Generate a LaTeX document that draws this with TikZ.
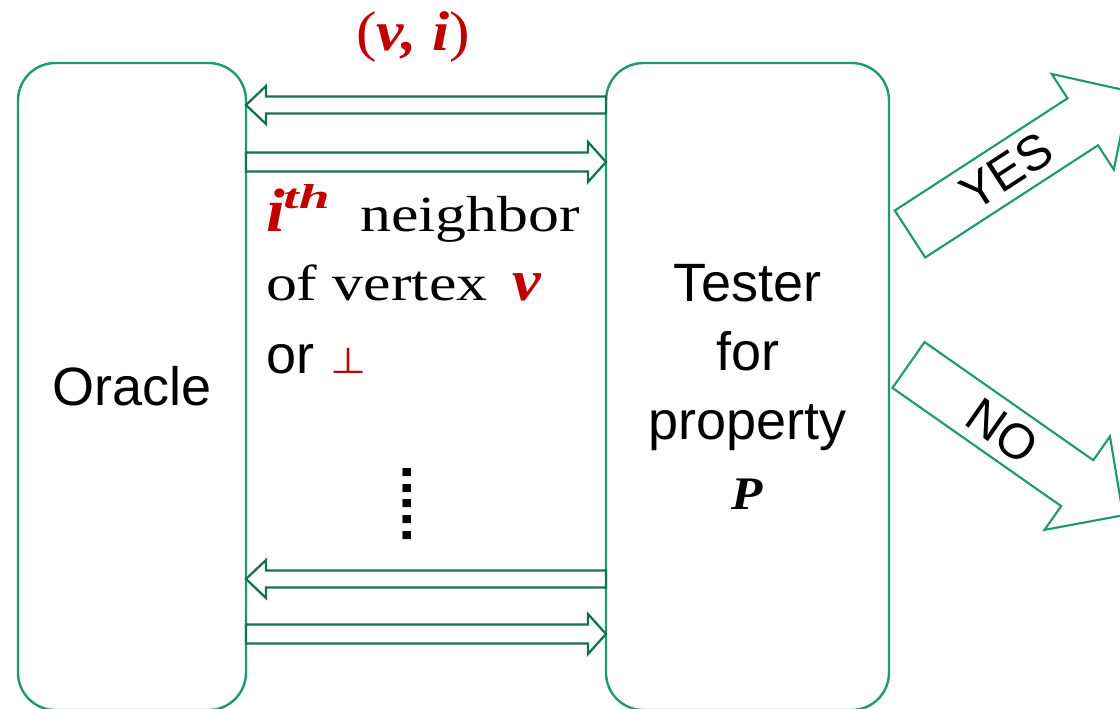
\documentclass[tikz,border=0pt]{standalone}
\usepackage{fontspec}
\setmainfont{Liberation Serif}
\newfontfamily\sansf{Liberation Sans}
\newfontfamily\symf[FakeStretch=1.15]{DejaVu Sans}
\newfontfamily\wideserif[FakeStretch=1.22]{Liberation Serif}
\newfontfamily\redmath[FakeStretch=1.1]{Liberation Serif}
\newfontfamily\supmath[FakeStretch=1.6]{Liberation Serif}
\usetikzlibrary{calc}
\definecolor{boxgreen}{RGB}{33,152,117}
\definecolor{arrgreen}{RGB}{22,112,82}
\definecolor{mred}{RGB}{192,0,0}
\begin{document}
\begin{tikzpicture}[x=0.75pt,y=-0.75pt,
  bigbox/.style={draw=boxgreen, line width=1.8pt, rounded corners=28pt, outer sep=0pt, inner sep=0pt},
  barrow/.style={draw=arrgreen, line width=1.7pt, fill=white, line join=miter},
  bigarrow/.style={draw=boxgreen, line width=1.6pt, fill=white, line join=miter},
  sanslabel/.style={font=\sansf\fontsize{40.5}{52}\selectfont},
  arrlabel/.style={font=\sansf\fontsize{37}{37}\selectfont, inner sep=0pt},
  txt/.style={anchor=base west, inner sep=0pt, outer sep=0pt}
]
\clip (0,0) rectangle (1120,708);
% boxes
\node[bigbox, minimum width=171pt, minimum height=485.25pt, sanslabel] (O) at (132,386.5) {Oracle};
\node[bigbox, minimum width=212.25pt, minimum height=485.25pt, sanslabel, align=center] (T) at (747.5,386.5)
  {Tester\\for\\property\\{\redmath\bfseries\itshape\fontsize{35}{52}\selectfont P}};
% level coordinates
\coordinate (y1) at (0,105);
\coordinate (y2) at (0,162);
\coordinate (y3) at (0,579);
\coordinate (y4) at (0,634);
\path (O.east |- y1) coordinate (a1) (T.west |- y1) coordinate (b1)
      (O.east |- y2) coordinate (a2) (T.west |- y2) coordinate (b2)
      (O.east |- y3) coordinate (a3) (T.west |- y3) coordinate (b3)
      (O.east |- y4) coordinate (a4) (T.west |- y4) coordinate (b4);
% left-pointing block arrows (Tester -> Oracle)
\draw[barrow] (a1) -- ($(a1)+(20,-19)$) -- ($(a1)+(20,-8.5)$) -- ($(b1)+(0,-8.5)$) -- ($(b1)+(0,8.5)$)
  -- ($(a1)+(20,8.5)$) -- ($(a1)+(20,19)$) -- cycle;
\draw[barrow] (a3) -- ($(a3)+(20,-19)$) -- ($(a3)+(20,-8.5)$) -- ($(b3)+(0,-8.5)$) -- ($(b3)+(0,8.5)$)
  -- ($(a3)+(20,8.5)$) -- ($(a3)+(20,19)$) -- cycle;
% right-pointing block arrows (Oracle -> Tester)
\draw[barrow] ($(a2)+(0,-9.5)$) -- ($(b2)+(-18,-9.5)$) -- ($(b2)+(-18,-20)$) -- (b2) -- ($(b2)+(-18,20)$)
  -- ($(b2)+(-18,9.5)$) -- ($(a2)+(0,9.5)$) -- cycle;
\draw[barrow] ($(a4)+(0,-9.5)$) -- ($(b4)+(-18,-9.5)$) -- ($(b4)+(-18,-20)$) -- (b4) -- ($(b4)+(-18,20)$)
  -- ($(b4)+(-18,9.5)$) -- ($(a4)+(0,9.5)$) -- cycle;
% header
\node[anchor=base, inner sep=0pt] (hdr) at (413,50)
  {\redmath\color{mred}\fontsize{42}{42}\selectfont (\bfseries\itshape v, i\mdseries\upshape)};
% middle text
\node[txt] (l1) at (266,231)
  {{\redmath\bfseries\itshape\color{mred}\fontsize{46}{46}\selectfont i\kern-1pt\raisebox{17pt}{\supmath\fontsize{26}{26}\selectfont th}}\hspace{23pt}{\wideserif\fontsize{38}{38}\selectfont neighbor}};
\node[txt] (l2) at (266,300)
  {{\wideserif\fontsize{38}{38}\selectfont of vertex}\hspace{19pt}{\redmath\bfseries\itshape\color{mred}\fontsize{44}{44}\selectfont v}};
\node[txt] (l3) at (266,373)
  {{\sansf\fontsize{40.5}{40.5}\selectfont or}\hspace{12pt}{\symf\color{mred}\fontsize{27}{27}\selectfont ⊥}};
% vertical dots
\node[rotate=90, inner sep=0pt, font=\sansf\bfseries\fontsize{43}{43}\selectfont] (dots) at (407,504) {.....};
% YES arrow
\begin{scope}[shift={(910,234)}, rotate=33]
  \draw[bigarrow] (0,-28) -- (206,-28) -- (206,-57) -- (262,0) -- (206,57) -- (206,28) -- (0,28) -- cycle;
  \node[arrlabel, rotate=33] (yes) at (115,0) {YES};
\end{scope}
% NO arrow
\begin{scope}[shift={(908.5,365)}, rotate=-35]
  \draw[bigarrow] (0,-28) -- (206,-28) -- (206,-57) -- (262,0) -- (206,57) -- (206,28) -- (0,28) -- cycle;
  \node[arrlabel, rotate=-35] (no) at (115,0) {NO};
\end{scope}
\end{tikzpicture}
\end{document}
